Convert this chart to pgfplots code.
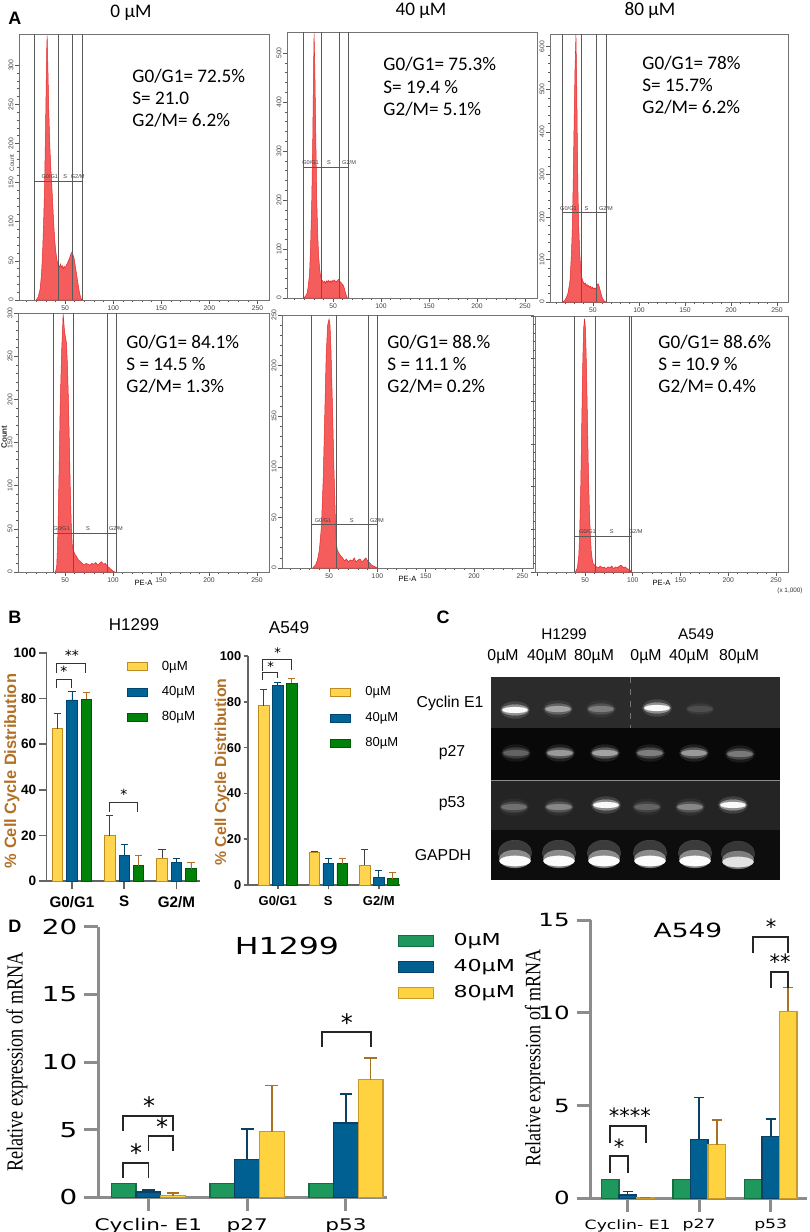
\documentclass[border=0pt]{standalone}
\usepackage{fontspec}
\usepackage{graphicx}
\usepackage{pgfplots}
\usepackage{pgfplotstable}
\pgfplotsset{compat=1.18}
\setmainfont{Liberation Sans}
\newfontfamily\carl{Carlito}
\newfontfamily\djv{DejaVu Sans}
\newfontfamily\djvw{DejaVu Sans}[FakeStretch=1.35]
\newfontfamily\tms{Liberation Serif}

\definecolor{hred}{RGB}{245,92,92}
\definecolor{hredd}{RGB}{228,40,40}
\definecolor{gatec}{RGB}{90,90,90}
\definecolor{byel}{RGB}{255,213,80}
\definecolor{byelD}{RGB}{190,140,30}
\definecolor{bblu}{RGB}{0,100,150}
\definecolor{bbluD}{RGB}{0,70,110}
\definecolor{bgrn}{RGB}{0,130,10}
\definecolor{bgrnD}{RGB}{0,90,0}
\definecolor{lblbrown}{RGB}{178,112,38}
\definecolor{baxis}{RGB}{100,100,100}
\definecolor{dgrn}{RGB}{30,152,92}
\definecolor{dgrnD}{RGB}{20,110,65}
\definecolor{dblu}{RGB}{0,96,146}
\definecolor{dbluD}{RGB}{10,65,100}
\definecolor{dyel}{RGB}{255,211,64}
\definecolor{dyelD}{RGB}{200,155,40}
\definecolor{derrY}{RGB}{165,115,35}
\definecolor{daxis}{RGB}{140,140,140}

\tikzset{
 glab/.style={font=\fontsize{2.8}{3}\selectfont, text=black!75, anchor=south, inner sep=1pt},
 brk/.style={draw=black!85, line width=0.75pt},
 bbrk/.style={draw=black!80, line width=0.5pt},
}
\pgfplotsset{
 hist/.style={scale only axis, anchor=south west, clip=true, ymin=0,
   axis line style={draw=black!55, line width=0.35pt},
   xtick={0,50,100,150,200,250}, xticklabels={,50,100,150,200,250},
   minor x tick num=4, minor y tick num=4,
   xtick pos=bottom, ytick pos=left, tick align=outside,
   major tick length=1.8pt, minor tick length=1.1pt,
   tick style={draw=black!65, line width=0.3pt},
   /pgf/number format/assume math mode=true,
   ticklabel style={font=\fontsize{3.4}{4}\selectfont, text=black!75, inner sep=0.8pt},
   yticklabel style={rotate=90, anchor=south},
 },
 hfill/.style={fill=hred, draw=hredd, line width=0.25pt},
 bbar/.style={scale only axis, anchor=south west, clip=false,
   axis x line*=bottom, axis y line*=left,
   axis line style={draw=baxis, line width=0.75pt},
   ymin=0, ymax=100, ytick={0,20,...,100},
   xtick={0,1,2}, xticklabels={G0/G1,S,G2/M},
   tick align=outside,
   tick style={draw=baxis, line width=0.75pt},
   /pgf/number format/assume math mode=true,
   legend cell align=left,
   legend image code/.code={\draw[##1] (0pt,-2pt) rectangle (10pt,2pt);},
   legend style={draw=none, fill=none, inner sep=0pt, row sep=2.6pt,
     /tikz/every odd column/.append style={column sep=5pt}},
 },
 bser/.style n args={4}{ybar, bar width=#1, bar shift=0pt, fill=#2, draw=#3, line width=0.45pt, forget plot,
   /pgfplots/error bars/y dir=plus, /pgfplots/error bars/y explicit,
   /pgfplots/error bars/error bar style={line width=0.45pt, draw=#4},
   /pgfplots/error bars/error mark options={rotate=90, mark size=1.8pt, line width=0.45pt, draw=#4}},
 dbar/.style={scale only axis, anchor=south west, clip=false,
   axis x line*=bottom, axis y line*=left,
   axis line style={draw=daxis, line width=1.5pt},
   ymin=0, xtick={0,1,2}, xticklabels={Cyclin- E1,p27,p53},
   tick align=outside, major tick length=7pt,
   tick style={draw=daxis, line width=1.5pt},
   /pgf/number format/assume math mode=true,
   legend cell align=left,
   legend image code/.code={\draw[##1] (0pt,-2.75pt) rectangle (17.5pt,2.75pt);},
 },
 dser/.style n args={5}{ybar, bar width=#1, bar shift=0pt, fill=#2, draw=#3, line width=0.6pt, forget plot,
   /pgfplots/error bars/y dir=plus, /pgfplots/error bars/y explicit,
   /pgfplots/error bars/error bar style={line width=0.8pt, draw=#4},
   /pgfplots/error bars/error mark options={rotate=90, mark size=#5, line width=0.8pt, draw=#4}},
 dsern/.style n args={3}{ybar, bar width=#1, bar shift=0pt, fill=#2, draw=#3, line width=0.6pt, forget plot},
 band/.style n args={4}{scatter, only marks, mark=*, mark size=#1, forget plot,
   scatter/use mapped color={draw=mapped color, fill=mapped color},
   mark options={line width=0.1pt, xscale=#2, opacity=#3}, point meta={#4}},
}

\newcommand{\gates}[9]{%
 \draw[gatec, line width=0.4pt] (axis cs:#1,0) -- (axis cs:#1,#6);
 \draw[gatec, line width=0.4pt] (axis cs:#2,0) -- (axis cs:#2,#6);
 \draw[gatec, line width=0.4pt] (axis cs:#3,0) -- (axis cs:#3,#6);
 \draw[gatec, line width=0.4pt] (axis cs:#4,0) -- (axis cs:#4,#6);
 \draw[gatec, line width=0.45pt] (axis cs:#1,#5) -- (axis cs:#4,#5);
 \node[glab] at (axis cs:#7,#5) {G0/G1};
 \node[glab] at (axis cs:#8,#5) {S};
 \node[glab] at (axis cs:#9,#5) {G2/M};
}

\pgfplotstableread{
x y I
515 -710 1.00
558 -709 0.60
601 -709 0.42
657 -708 1.00
700 -709 0.20
516 -753 0.30
560 -753 0.55
605 -753 0.60
650 -753 0.42
694 -753 0.55
740 -754 0.40
514 -807 0.36
559 -807 0.46
606 -805 1.00
647 -807 0.30
690 -807 0.46
733 -805 1.00
}\gelbands
\pgfplotstableread{
x y I
515 -861 1.00
559 -861 1.00
604 -861 1.00
650 -861 1.00
695 -861 1.00
738 -862 0.90
}\gapdh

\begin{document}
\begin{tikzpicture}
\useasboundingbox (0pt,0pt) rectangle (404.5pt,-616pt);

% ================= Panel A =================
\begin{axis}[hist, at={(9.5pt,-150pt)}, width=125pt, height=133pt, xmin=2, xmax=262, ymax=340, ytick={0,50,...,300}]
\addplot[hfill] coordinates {(20,0)(22,4)(24,14)(25.5,35)(26.5,60)(27.5,95)(28.5,140)(29.5,210)(30.2,270)(30.8,320)(31.3,338)(32,300)(33,240)(34,200)(35,170)(36,150)(37,125)(38,100)(39,80)(40,65)(41,55)(42,48)(43,44)(44,42)(45,46)(46,42)(47,44)(48,40)(49,43)(50,41)(51,44)(52,46)(53,49)(54,52)(55,55)(56,59)(57,61)(58,58)(59,55)(60,48)(61,40)(62,32)(63,24)(64,16)(65,9)(66,4)(67,1)(68,0)} \closedcycle;
\gates{17.7}{42.7}{57.3}{67.7}{152}{340}{34}{50}{63}
\end{axis}

\begin{axis}[hist, at={(143.5pt,-149pt)}, width=125pt, height=133pt, xmin=2, xmax=262.5, ymax=543, ytick={0,100,...,500}]
\addplot[hfill] coordinates {(19,0)(21,3)(23,10)(24,22)(25.5,50)(26.5,100)(27.8,200)(28.8,320)(29.5,440)(30.2,540)(31,470)(32,330)(33,200)(34,130)(35,85)(36,60)(37,45)(38,38)(39,35)(40,32)(41,34)(42,30)(43,35)(44,32)(45,36)(46,33)(47,35)(48,31)(49,36)(50,33)(51,37)(52,34)(53,35)(54,33)(55,37)(56,38)(57,34)(58,32)(59,30)(60,28)(61,24)(62,18)(63,10)(64,4)(65,0)} \closedcycle;
\gates{18.7}{37.5}{56.3}{65.6}{267}{543}{26.6}{45.8}{66.7}
\end{axis}

\begin{axis}[hist, at={(275pt,-151pt)}, width=119pt, height=134pt, xmin=3.3, xmax=262, ymax=630, ytick={0,100,...,600}]
\addplot[hfill] coordinates {(17,0)(19,3)(21,10)(23,22)(25,50)(26.5,110)(27.5,170)(28.5,280)(29.5,420)(30.5,550)(31.5,628)(32.3,520)(33,380)(33.7,260)(34.5,180)(35.5,120)(36.6,82)(37.5,62)(38.5,52)(39.5,47)(40.5,42)(41.5,45)(42.5,38)(43.5,42)(44.5,36)(45.5,39)(46.5,34)(47.5,37)(48.5,32)(49.5,35)(50.5,31)(51.5,33)(52.5,30)(53.5,34)(54.5,40)(55.5,43)(56.5,38)(57.5,30)(58.5,22)(59.5,14)(60.5,8)(62,3)(64,0)} \closedcycle;
\gates{16.3}{37}{53.3}{64.1}{210}{630}{23.4}{43}{64}
\end{axis}

\begin{axis}[hist, at={(9pt,-286pt)}, width=125.5pt, height=129.5pt, xmin=1, xmax=262.5, ymax=300, ytick={0,50,...,300}, xlabel={PE-A}, xlabel style={font=\fontsize{3.8}{4}\selectfont, inner sep=0pt, yshift=2pt}]
\addplot[hfill] coordinates {(40,0)(41.3,6)(42.2,30)(43,68)(44,130)(44.8,184)(45.7,225)(46.6,260)(47.5,282)(48,299)(48.7,290)(49.5,278)(50.5,272)(51.5,265)(52.5,240)(53.5,200)(54.5,150)(55.5,95)(56.5,55)(57.5,32)(58.5,26)(60,21)(62,18)(64,14)(66,12)(68,10)(70,8)(72,10)(74,9)(76,8)(78,10)(80,9)(82,11)(84,8)(86,10)(88,12)(90,9)(92,10)(94,7)(96,5)(98,3)(100,1)(102,0)} \closedcycle;
\gates{37.5}{58.3}{93.8}{103}{45}{300}{46.5}{74}{103}
\end{axis}

\begin{axis}[hist, at={(141pt,-284pt)}, width=125.5pt, height=126.5pt, xmin=1.3, xmax=261, ymax=250, ytick={0,50,...,250}, xlabel={PE-A}, xlabel style={font=\fontsize{3.8}{4}\selectfont, inner sep=0pt, yshift=2pt}]
\addplot[hfill] coordinates {(33,0)(36,3)(38,8)(40,18)(42,40)(44,90)(45.5,150)(47,210)(48.5,240)(50,246)(51,240)(52,215)(53.5,160)(55,100)(56.5,50)(57.5,25)(58.5,18)(60,15)(62,12)(64,10)(66,7)(68,9)(70,6)(72,8)(74,7)(76,10)(78,6)(80,8)(82,9)(84,6)(86,8)(88,10)(90,7)(92,5)(94,3)(96,2)(98,1)(100,0)} \closedcycle;
\gates{32}{58}{91}{100}{43}{250}{43.8}{73.5}{99.5}
\end{axis}

\begin{axis}[hist, at={(267.5pt,-286pt)}, width=126.5pt, height=128pt, xmin=-2.4, xmax=262.6, ymax=300, ytick={0,50,...,300}, yticklabels={}, xlabel={PE-A}, xlabel style={font=\fontsize{3.8}{4}\selectfont, inner sep=0pt, yshift=2pt}]
\addplot[hfill] coordinates {(40,0)(42,5)(43.5,20)(44.5,50)(45.5,100)(46.5,170)(47.5,240)(48.5,285)(49.5,297)(50.5,285)(51.5,240)(52.5,180)(53.5,120)(54.5,75)(55.5,45)(56.5,25)(57.5,15)(58.5,10)(60,8)(62,6)(64,5)(66,7)(68,5)(70,6)(72,4)(74,6)(76,5)(78,7)(80,4)(82,6)(84,5)(86,7)(88,8)(90,5)(92,6)(94,4)(96,3)(98,1)(99,0)} \closedcycle;
\gates{39}{61}{96}{99}{42}{300}{52.6}{78}{103}
\end{axis}

% ================= Panel B =================
\begin{axis}[bbar, at={(23.35pt,-440.5pt)}, width=76.65pt, height=114pt, xmin=-0.484, xmax=2.45,
  major tick length=4pt,
  yticklabel style={font=\bfseries\fontsize{6.8}{8}\selectfont, inner sep=1pt},
  xticklabel style={font=\bfseries\fontsize{7.6}{8}\selectfont},
  legend style={at={(0.52,0.985)}, anchor=north west, font=\fontsize{6.6}{7}\selectfont}]
\addlegendimage{fill=byel, draw=byelD, line width=0.5pt}\addlegendentry{0µM}
\addlegendimage{fill=bblu, draw=bbluD, line width=0.5pt}\addlegendentry{40µM}
\addlegendimage{fill=bgrn, draw=bgrnD, line width=0.5pt}\addlegendentry{80µM}
\addplot[bser={0.2}{byel}{byelD}{black!75}] coordinates {(-0.277,66.7) +- (0,6.9) (0.723,19.9) +- (0,9.0) (1.723,10.0) +- (0,4.0)};
\addplot[bser={0.2}{bblu}{bbluD}{bbluD}] coordinates {(0,79.4) +- (0,3.6) (1,11.0) +- (0,4.9) (2,8.3) +- (0,1.7)};
\addplot[bser={0.2}{bgrn}{bgrnD}{lblbrown}] coordinates {(0.277,79.8) +- (0,2.8) (1.277,6.7) +- (0,4.3) (2.277,5.4) +- (0,2.6)};
\draw[bbrk] (axis cs:-0.287,84.6) -- (axis cs:-0.287,88.6) -- (axis cs:0,88.6) -- (axis cs:0,84.6);
\node[font=\djv\fontsize{7}{7}\selectfont, yshift=-1.3pt] at (axis cs:-0.153,93) {*};
\draw[bbrk] (axis cs:-0.287,91.2) -- (axis cs:-0.287,95.2) -- (axis cs:0.268,95.2) -- (axis cs:0.268,91.2);
\node[font=\djv\fontsize{7}{7}\selectfont, yshift=-1.3pt] at (axis cs:0,100) {**};
\draw[bbrk] (axis cs:0.727,30.3) -- (axis cs:0.727,34.6) -- (axis cs:1.262,34.6) -- (axis cs:1.262,30.3);
\node[font=\djv\fontsize{7}{7}\selectfont, yshift=-1.3pt] at (axis cs:0.994,39) {*};
\end{axis}

\begin{axis}[bbar, at={(124pt,-442.5pt)}, width=76pt, height=114.5pt, xmin=-0.59, xmax=2.42,
  major tick length=2.2pt,
  yticklabel style={font=\bfseries\fontsize{6.4}{7}\selectfont, inner sep=1pt},
  xticklabel style={font=\bfseries\fontsize{6.5}{7}\selectfont},
  legend style={at={(0.54,0.885)}, anchor=north west, font=\fontsize{6.5}{7}\selectfont}]
\addlegendimage{fill=byel, draw=byelD, line width=0.5pt}\addlegendentry{0µM}
\addlegendimage{fill=bblu, draw=bbluD, line width=0.5pt}\addlegendentry{40µM}
\addlegendimage{fill=bgrn, draw=bgrnD, line width=0.5pt}\addlegendentry{80µM}
\addplot[bser={0.21}{byel}{byelD}{black!75}] coordinates {(-0.277,78.3) +- (0,7.3) (0.723,14.4) +- (0,0.3) (1.723,8.7) +- (0,7.0)};
\addplot[bser={0.21}{bblu}{bbluD}{bbluD}] coordinates {(0,87.3) +- (0,1.3) (1,9.2) +- (0,2.2) (2,3.4) +- (0,2.8)};
\addplot[bser={0.21}{bgrn}{bgrnD}{lblbrown}] coordinates {(0.277,88.0) +- (0,2.4) (1.277,9.2) +- (0,2.2) (2.277,2.8) +- (0,2.8)};
\draw[bbrk] (axis cs:-0.297,89.5) -- (axis cs:-0.297,92.7) -- (axis cs:0,92.7) -- (axis cs:0,90.5);
\node[font=\djv\fontsize{6.6}{7}\selectfont, yshift=-1.2pt] at (axis cs:-0.139,96.5) {*};
\draw[bbrk] (axis cs:-0.297,93.5) -- (axis cs:-0.297,98.3) -- (axis cs:0.277,98.3) -- (axis cs:0.277,94);
\node[font=\djv\fontsize{6.6}{7}\selectfont, yshift=-1.2pt] at (axis cs:0,102.6) {*};
\end{axis}

% ================= Panel C (gel) =================
\begin{axis}[at={(245.5pt,-440pt)}, anchor=south west, scale only axis, width=144.5pt, height=101.5pt,
  xmin=491, xmax=780, ymin=-880, ymax=-677, hide axis, clip=true,
  colormap={gel}{gray(0cm)=(0); gray(1cm)=(1)}, point meta min=0, point meta max=1]
\addplot[fill=black!95, draw=none] coordinates {(491,-880)(780,-880)} \closedcycle;
\addplot[fill=black!86, draw=none] coordinates {(491,-830)(780,-830)} \closedcycle;
\addplot[fill=black!97, draw=none] coordinates {(491,-780)(780,-780)} \closedcycle;
\addplot[fill=black!83, draw=none] coordinates {(491,-728)(780,-728)} \closedcycle;
% GAPDH haze and bands
\addplot[band={6.5pt}{1.3}{0.4}{0.5*\thisrow{I}}] table[x=x, y expr=\thisrow{y}+8] {\gapdh};
\addplot[band={4.5pt}{1.75}{0.6}{0.75*\thisrow{I}}] table[x=x, y expr=\thisrow{y}+2] {\gapdh};
\addplot[band={2.6pt}{3.0}{1}{0.98*\thisrow{I}}] table[x=x, y=y] {\gapdh};
% other bands
\addplot[band={4.2pt}{1.75}{0.3}{0.12+0.4*\thisrow{I}}] table[x=x, y=y] {\gelbands};
\addplot[band={2.7pt}{2.5}{0.6}{0.14+0.6*\thisrow{I}}] table[x=x, y=y] {\gelbands};
\addplot[band={1.5pt}{4.2}{0.95}{0.14+0.86*\thisrow{I}}] table[x=x, y=y] {\gelbands};
\addplot[draw=black!45, line width=0.5pt] coordinates {(491,-780)(780,-780)};
\addplot[draw=black!55, line width=0.4pt, dashed] coordinates {(630,-677)(630,-728)};
\end{axis}

% ================= Panel D =================
\begin{axis}[dbar, at={(49.15pt,-598.65pt)}, width=144.35pt, height=135.3pt, xmin=-0.506, xmax=2.415, ymax=20,
  ytick={0,5,10,15,20},
  yticklabel style={font=\djvw\fontsize{10.3}{11}\selectfont},
  xticklabel style={font=\djvw\fontsize{8}{9}\selectfont},
  legend style={at={(1.035,0.99)}, anchor=north west, draw=none, fill=none, inner sep=0pt, row sep=1.2pt,
    font=\djvw\fontsize{8.2}{9}\selectfont, /tikz/every odd column/.append style={column sep=8pt}}]
\addlegendimage{fill=dgrn, draw=dgrnD, line width=0.5pt}\addlegendentry{0µM}
\addlegendimage{fill=dblu, draw=dbluD, line width=0.5pt}\addlegendentry{40µM}
\addlegendimage{fill=dyel, draw=dyelD, line width=0.5pt}\addlegendentry{80µM}
\addplot[dsern={0.25}{dgrn}{dgrnD}] coordinates {(-0.25,1) (0.75,1) (1.75,1)};
\addplot[dser={0.25}{dblu}{dbluD}{dbluD}{3.2pt}] coordinates {(0,0.4) +- (0,0.15) (1,2.8) +- (0,2.25) (2,5.5) +- (0,2.12)};
\addplot[dser={0.25}{dyel}{dyelD}{derrY}{3.2pt}] coordinates {(0.25,0.12) +- (0,0.18) (1.25,4.85) +- (0,3.4) (2.25,8.7) +- (0,1.6)};
\draw[brk] (axis cs:1.758,11.1) |- (axis cs:2.254,12.2) -- (axis cs:2.254,11.1);
\node[font=\djv\fontsize{12}{12}\selectfont, yshift=-2.2pt] at (axis cs:2.01,13.25) {*};
\draw[brk] (axis cs:-0.256,1.42) |- (axis cs:0,2.535) -- (axis cs:0,1.42);
\node[font=\djv\fontsize{12}{12}\selectfont, yshift=-2.2pt] at (axis cs:-0.124,3.65) {*};
\draw[brk] (axis cs:0,3.42) |- (axis cs:0.25,4.53) -- (axis cs:0.25,3.42);
\node[font=\djv\fontsize{12}{12}\selectfont, yshift=-2.2pt] at (axis cs:0.139,5.56) {*};
\draw[brk] (axis cs:-0.256,4.9) |- (axis cs:0.25,6.0) -- (axis cs:0.25,4.9);
\node[font=\djv\fontsize{12}{12}\selectfont, yshift=-2.2pt] at (axis cs:0.007,7.1) {*};
\end{axis}

\begin{axis}[dbar, at={(295.35pt,-599.15pt)}, width=108pt, height=139.15pt, xmin=-0.517, xmax=2.503, ymax=15,
  ytick={0,5,10,15},
  yticklabel style={font=\djvw\fontsize{9.1}{10}\selectfont},
  xticklabel style={font=\djvw\fontsize{6.4}{7}\selectfont}]
\addplot[dsern={0.245}{dgrn}{dgrnD}] coordinates {(-0.245,1) (0.755,1) (1.755,1)};
\addplot[dser={0.245}{dblu}{dbluD}{dbluD}{2.5pt}] coordinates {(0,0.18) +- (0,0.18) (1,3.15) +- (0,2.28) (2,3.33) +- (0,0.95)};
\addplot[dser={0.245}{dyel}{dyelD}{derrY}{2.5pt}] coordinates {(0.245,0.03) +- (0,0.02) (1.245,2.88) +- (0,1.35) (2.245,10.07) +- (0,1.3)};
\draw[brk] (axis cs:-0.248,2.98) |- (axis cs:0.256,3.9) -- (axis cs:0.256,2.98);
\node[font=\djv\fontsize{10.5}{11}\selectfont, yshift=-1.9pt] at (axis cs:0.03,4.65) {****};
\draw[brk] (axis cs:-0.248,1.36) |- (axis cs:0.004,2.28) -- (axis cs:0.004,1.36);
\node[font=\djv\fontsize{10.5}{11}\selectfont, yshift=-1.9pt] at (axis cs:-0.12,2.98) {*};
\draw[brk] (axis cs:1.752,13.2) |- (axis cs:2.242,14.09) -- (axis cs:2.242,13.2);
\node[font=\djv\fontsize{10.5}{11}\selectfont, yshift=-1.9pt] at (axis cs:2.004,14.84) {*};
\draw[brk] (axis cs:2.004,11.35) |- (axis cs:2.242,12.2) -- (axis cs:2.242,11.35);
\node[font=\djv\fontsize{10.5}{11}\selectfont, yshift=-1.9pt] at (axis cs:2.13,12.96) {**};
\end{axis}

% ================= Text =================
\begin{scope}[x=0.5pt, y=-0.5pt]
\node[font=\bfseries\fontsize{9}{10}\selectfont] at (15,18) {A};
\node[font=\bfseries\fontsize{9}{10}\selectfont] at (15,617) {B};
\node[font=\bfseries\fontsize{9}{10}\selectfont] at (443,617) {C};
\node[font=\bfseries\fontsize{9}{10}\selectfont] at (15,926) {D};
% A titles
\node[font=\carl\fontsize{9.6}{11}\selectfont] at (131,13) {0 µM};
\node[font=\carl\fontsize{9.6}{11}\selectfont] at (421,11) {40 µM};
\node[font=\carl\fontsize{9.6}{11}\selectfont] at (650,10) {80 µM};
% A annotations
\begin{scope}[every node/.style={font=\carl\fontsize{9.6}{11}\selectfont, anchor=west, inner sep=0pt}]
\node at (132,76) {G0/G1= 72.5\%}; \node at (132,98) {S= 21.0}; \node at (132,120) {G2/M= 6.2\%};
\node at (383,64) {G0/G1= 75.3\%}; \node at (383,87) {S= 19.4 \%}; \node at (383,109) {G2/M= 5.1\%};
\node at (642,63) {G0/G1= 78\%}; \node at (642,85) {S= 15.7\%}; \node at (642,107) {G2/M= 6.2\%};
\node at (126,342) {G0/G1= 84.1\%}; \node at (126,364) {S = 14.5 \%}; \node at (126,386) {G2/M= 1.3\%};
\node at (387,342) {G0/G1= 88.\%}; \node at (387,364) {S = 11.1 \%}; \node at (387,386) {G2/M= 0.2\%};
\node at (658,342) {G0/G1= 88.6\%}; \node at (658,364) {S = 10.9 \%}; \node at (658,386) {G2/M= 0.4\%};
\end{scope}
\node[font=\fontsize{3.2}{4}\selectfont, rotate=90, text=black!70] at (12,163) {Count};
\node[font=\bfseries\fontsize{4}{5}\selectfont, rotate=90, text=black!80] at (4,437) {Count};
\node[font=\fontsize{3.2}{4}\selectfont, text=black!80] at (790,591) {(x 1,000)};
% B
\node[font=\fontsize{8.5}{10}\selectfont] at (134,625) {H1299};
\node[font=\fontsize{8.6}{10}\selectfont] at (289,628) {A549};
\node[font=\bfseries\fontsize{8.2}{10}\selectfont, text=lblbrown, rotate=90] at (12,771) {\% Cell Cycle Distribution};
\node[font=\bfseries\fontsize{7.9}{10}\selectfont, text=lblbrown, rotate=90] at (222,772) {\% Cell Cycle Distribution};
% C
\node[font=\fontsize{7.7}{9}\selectfont] at (564,634) {H1299};
\node[font=\fontsize{7.7}{9}\selectfont] at (696,634) {A549};
\begin{scope}[every node/.style={font=\fontsize{7.9}{9}\selectfont}]
\node at (503,657) {0µM}; \node at (547,657) {40µM}; \node at (594,657) {80µM};
\node at (646,657) {0µM}; \node at (689,657) {40µM}; \node at (739,657) {80µM};
\node at (450,703) {Cyclin E1}; \node at (452,753) {p27}; \node at (452,804) {p53}; \node at (443,855) {GAPDH};
\end{scope}
% D
\node[font=\djvw\fontsize{11.7}{13}\selectfont] at (287,946) {H1299};
\node[font=\djvw\fontsize{9.8}{11}\selectfont] at (688,930) {A549};
\node[font=\tms\fontsize{11.5}{13}\selectfont, rotate=90] at (17,1062) {\scalebox{0.79}[1]{Relative expression of mRNA}};
\node[font=\tms\fontsize{11}{13}\selectfont, rotate=90] at (535,1058) {\scalebox{0.82}[1]{Relative expression of mRNA}};
\end{scope}
\end{tikzpicture}
\end{document}
